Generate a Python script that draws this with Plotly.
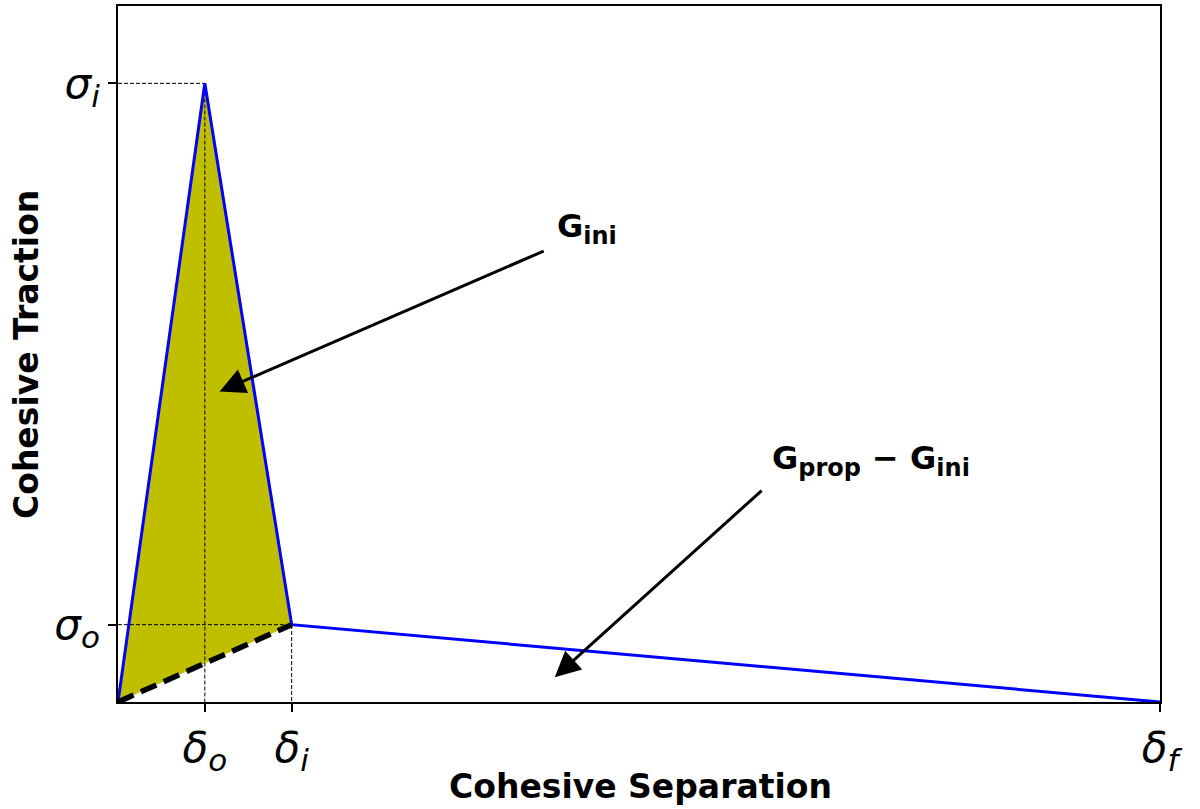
import plotly.graph_objects as go

# Data
sep_values = [0, 1, 2, 12]            # 0, delta_o, delta_i, delta_f
trac_values = [0, 1.0, 0.125, 0]      # 0, sigma_i, sigma_o, 0
x_tick_vals = [1, 2, 12]
x_tick_syms = [("δ", "o"), ("δ", "i"), ("δ", "f")]
y_tick_vals = [0.125, 1.0]
y_tick_syms = [("σ", "o"), ("σ", "i")]
x_range = [0, 12]
y_range = [0, 1.125]
x_title = "Cohesive Separation"
y_title = "Cohesive Traction"

FONT = "DejaVu Sans"
TICK_SIZE = 42
SUB_SIZE = 31


def math_label(sym, sub):
    return (f"<i>{sym}</i><sub><span style='font-size:{SUB_SIZE}px'><i>{sub}</i></span></sub>")


fig = go.Figure()

# filled G_ini region
fill_x = [sep_values[0], sep_values[1], sep_values[2], sep_values[0]]
fill_y = [trac_values[0], trac_values[1], trac_values[2], trac_values[0]]
fig.add_trace(go.Scatter(x=fill_x, y=fill_y, fill="toself", fillcolor="#bfbf00",
                         mode="none", hoverinfo="skip"))

# guide lines
for xv, yv in [(sep_values[1], trac_values[1]), (sep_values[2], trac_values[2])]:
    fig.add_trace(go.Scatter(x=[0, xv, xv], y=[yv, yv, 0], mode="lines",
                             line=dict(color="black", width=1, dash="4px,2px")))

# traction-separation curve
fig.add_trace(go.Scatter(x=sep_values, y=trac_values, mode="lines",
                         line=dict(color="#0000ff", width=3)))

# unloading dashed line
fig.add_trace(go.Scatter(x=[sep_values[0], sep_values[2]], y=[trac_values[0], trac_values[2]],
                         mode="lines", line=dict(color="black", width=5.5, dash="17px,8px")))

# arrows
arrows = [((1.17, 0.502), (4.92, 0.730)), ((5.03, 0.040), (7.43, 0.344))]
for (hx, hy), (tx, ty) in arrows:
    fig.add_annotation(x=hx, y=hy, ax=tx, ay=ty, xref="x", yref="y", axref="x", ayref="y",
                       text="", showarrow=True, arrowhead=2, arrowsize=1.7, arrowwidth=3,
                       arrowcolor="black", standoff=0, startstandoff=0)


def bold_g(sub):
    return f"G<sub><span style='font-size:24px'>{sub}</span></sub>"


labels = [(5.03, 0.766, "<b>" + bold_g("ini") + "</b>"),
          (7.51, 0.39, "<b>" + bold_g("prop") + " − " + bold_g("ini") + "</b>")]
for lx, ly, lt in labels:
    fig.add_annotation(x=lx, y=ly, xref="x", yref="y", text=lt, showarrow=False,
                       xanchor="left", yanchor="middle",
                       font=dict(family=FONT, size=32, color="black"))

# axis titles as paper annotations
fig.add_annotation(x=0.501, y=-0.122, xref="paper", yref="paper", text=f"<b>{x_title}</b>",
                   showarrow=False, xanchor="center", yanchor="middle",
                   font=dict(family=FONT, size=33, color="black"))
fig.add_annotation(x=-0.0873, y=0.4986, xref="paper", yref="paper", text=f"<b>{y_title}</b>",
                   showarrow=False, xanchor="center", yanchor="middle", textangle=-90,
                   font=dict(family=FONT, size=33, color="black"))

axis_common = dict(showline=True, linecolor="black", linewidth=1.5, mirror=True,
                   ticks="outside", ticklen=8, tickwidth=1.5, tickcolor="black",
                   showgrid=False, zeroline=False, automargin=False,
                   tickfont=dict(family=FONT, size=TICK_SIZE, color="black"))

fig.update_xaxes(range=x_range, tickmode="array", tickvals=x_tick_vals,
                 ticktext=[math_label(s, b) for s, b in x_tick_syms], **axis_common)
fig.update_yaxes(range=y_range, tickmode="array", tickvals=y_tick_vals,
                 ticktext=[math_label(s, b) for s, b in y_tick_syms], **axis_common)

fig.update_layout(width=1200, height=809, showlegend=False,
                  margin=dict(l=118, r=40, t=6, b=107),
                  plot_bgcolor="white", paper_bgcolor="white",
                  font=dict(family=FONT, color="black"))

fig.write_html("out.html")
